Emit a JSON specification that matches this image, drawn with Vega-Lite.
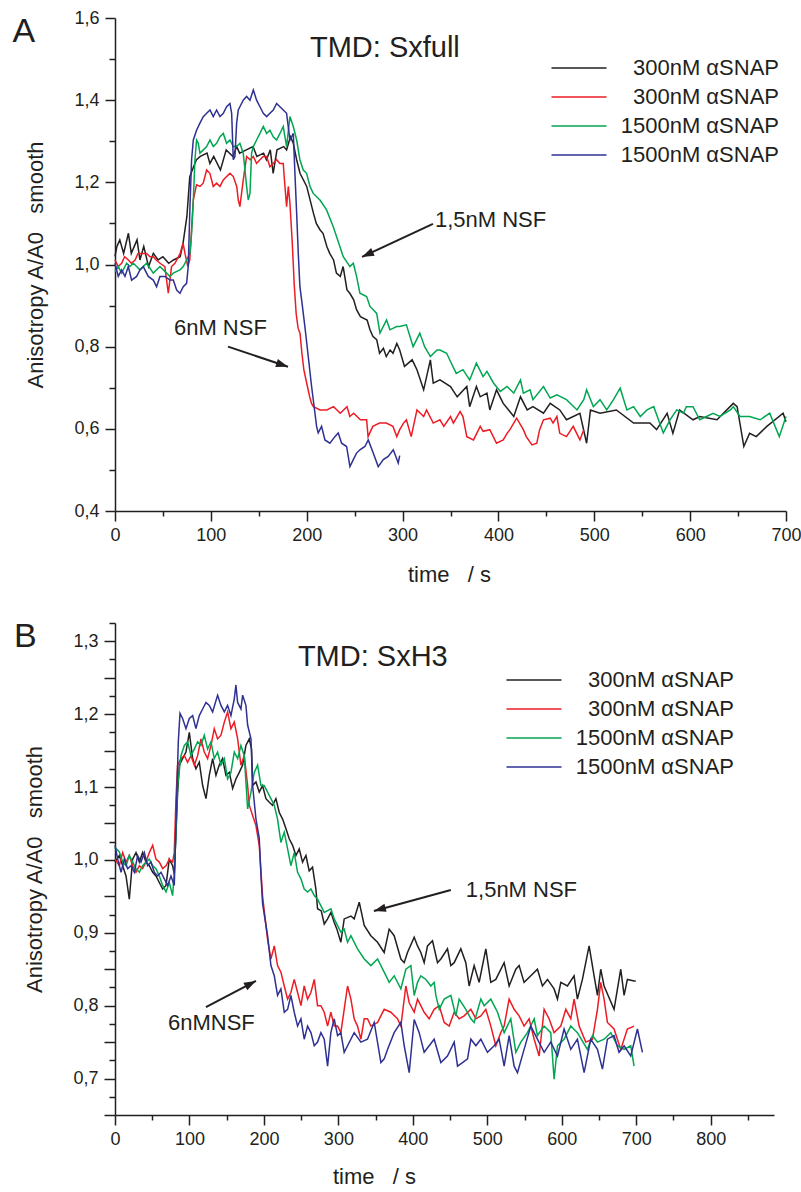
{
"$schema": "https://vega.github.io/schema/vega-lite/v6.json",
"padding": {"left": 12, "top": 9, "right": 5, "bottom": 5},
"background": "white",
"spacing": 29,
"resolve": {"scale": {"color": "independent"}, "legend": {"color": "independent"}},
"config": {
  "view": {"stroke": null},
  "font": "Liberation Sans",
  "axis": {"grid": false, "domainColor": "#231f20", "domainWidth": 1.5, "tickColor": "#231f20", "tickWidth": 1.5, "labelFont": "Liberation Sans", "labelFontSize": 18, "labelColor": "#231f20", "titleFont": "Liberation Sans", "titleFontSize": 22, "titleFontWeight": "normal", "titleColor": "#231f20", "labelFlush": false, "labelOverlap": false, "tickCount": 200},
  "text": {"font": "Liberation Sans", "color": "#231f20"},
  "legend": {"labelFont": "Liberation Sans"}
},
"datasets": {
"A": [
{"s":"k","t":0,"v":1.02},{"s":"k","t":2,"v":1.044},{"s":"k","t":5,"v":1.06},{"s":"k","t":9,"v":1.027},{"s":"k","t":14,"v":1.076},{"s":"k","t":17,"v":1.027},{"s":"k","t":23,"v":1.06},{"s":"k","t":26,"v":1.011},{"s":"k","t":30,"v":1.044},{"s":"k","t":35,"v":0.995},{"s":"k","t":40,"v":1.027},{"s":"k","t":45,"v":1.011},{"s":"k","t":50,"v":1.019},{"s":"k","t":56,"v":1.003},{"s":"k","t":61,"v":1.011},{"s":"k","t":68,"v":1.019},{"s":"k","t":71,"v":1.052},{"s":"k","t":75,"v":1.117},{"s":"k","t":78,"v":1.214},{"s":"k","t":82,"v":1.238},{"s":"k","t":85,"v":1.255},{"s":"k","t":89,"v":1.263},{"s":"k","t":96,"v":1.271},{"s":"k","t":99,"v":1.246},{"s":"k","t":103,"v":1.263},{"s":"k","t":110,"v":1.23},{"s":"k","t":116,"v":1.279},{"s":"k","t":123,"v":1.263},{"s":"k","t":127,"v":1.287},{"s":"k","t":130,"v":1.271},{"s":"k","t":137,"v":1.279},{"s":"k","t":144,"v":1.287},{"s":"k","t":148,"v":1.263},{"s":"k","t":155,"v":1.271},{"s":"k","t":158,"v":1.255},{"s":"k","t":162,"v":1.279},{"s":"k","t":165,"v":1.222},{"s":"k","t":169,"v":1.279},{"s":"k","t":176,"v":1.287},{"s":"k","t":179,"v":1.279},{"s":"k","t":183,"v":1.311},{"s":"k","t":186,"v":1.295},{"s":"k","t":189.5,"v":1.255},{"s":"k","t":193,"v":1.222},{"s":"k","t":200,"v":1.19},{"s":"k","t":207,"v":1.125},{"s":"k","t":210,"v":1.1},{"s":"k","t":214,"v":1.084},{"s":"k","t":217,"v":1.076},{"s":"k","t":221,"v":1.044},{"s":"k","t":224,"v":1.027},{"s":"k","t":228,"v":1.011},{"s":"k","t":231,"v":0.979},{"s":"k","t":235,"v":0.971},{"s":"k","t":238,"v":0.995},{"s":"k","t":242,"v":0.938},{"s":"k","t":245,"v":0.93},{"s":"k","t":249,"v":0.914},{"s":"k","t":252,"v":0.89},{"s":"k","t":256,"v":0.873},{"s":"k","t":263,"v":0.865},{"s":"k","t":266,"v":0.841},{"s":"k","t":269,"v":0.825},{"s":"k","t":273,"v":0.817},{"s":"k","t":276,"v":0.784},{"s":"k","t":280,"v":0.796},{"s":"k","t":283,"v":0.776},{"s":"k","t":287,"v":0.792},{"s":"k","t":290,"v":0.784},{"s":"k","t":294,"v":0.808},{"s":"k","t":297,"v":0.792},{"s":"k","t":302,"v":0.752},{"s":"k","t":310,"v":0.768},{"s":"k","t":315,"v":0.744},{"s":"k","t":322,"v":0.695},{"s":"k","t":329,"v":0.768},{"s":"k","t":332,"v":0.711},{"s":"k","t":339,"v":0.719},{"s":"k","t":350,"v":0.703},{"s":"k","t":357,"v":0.678},{"s":"k","t":367,"v":0.703},{"s":"k","t":370,"v":0.654},{"s":"k","t":377,"v":0.703},{"s":"k","t":381,"v":0.678},{"s":"k","t":388,"v":0.687},{"s":"k","t":391,"v":0.646},{"s":"k","t":398,"v":0.695},{"s":"k","t":405,"v":0.662},{"s":"k","t":416,"v":0.63},{"s":"k","t":423,"v":0.678},{"s":"k","t":430,"v":0.646},{"s":"k","t":436,"v":0.654},{"s":"k","t":447,"v":0.638},{"s":"k","t":454,"v":0.662},{"s":"k","t":464,"v":0.646},{"s":"k","t":471,"v":0.622},{"s":"k","t":485,"v":0.638},{"s":"k","t":492,"v":0.565},{"s":"k","t":496,"v":0.646},{"s":"k","t":506,"v":0.638},{"s":"k","t":523,"v":0.646},{"s":"k","t":541,"v":0.614},{"s":"k","t":558,"v":0.614},{"s":"k","t":565,"v":0.598},{"s":"k","t":576,"v":0.638},{"s":"k","t":582,"v":0.589},{"s":"k","t":589,"v":0.646},{"s":"k","t":603,"v":0.622},{"s":"k","t":610,"v":0.63},{"s":"k","t":628,"v":0.622},{"s":"k","t":645,"v":0.662},{"s":"k","t":649,"v":0.654},{"s":"k","t":656,"v":0.557},{"s":"k","t":662,"v":0.589},{"s":"k","t":669,"v":0.581},{"s":"k","t":680,"v":0.606},{"s":"k","t":697,"v":0.638},{"s":"k","t":700,"v":0.617},
{"s":"r","t":0,"v":1.011},{"s":"r","t":3.4,"v":0.995},{"s":"r","t":7,"v":1.003},{"s":"r","t":10,"v":1.019},{"s":"r","t":14,"v":1.011},{"s":"r","t":17,"v":1.003},{"s":"r","t":21,"v":1.011},{"s":"r","t":24,"v":1.027},{"s":"r","t":28,"v":1.027},{"s":"r","t":33,"v":1.027},{"s":"r","t":36.5,"v":1.019},{"s":"r","t":40,"v":1.019},{"s":"r","t":43,"v":1.011},{"s":"r","t":47,"v":1.003},{"s":"r","t":52,"v":0.995},{"s":"r","t":55.6,"v":0.93},{"s":"r","t":59,"v":0.995},{"s":"r","t":62.5,"v":1.003},{"s":"r","t":68,"v":1.027},{"s":"r","t":71,"v":1.052},{"s":"r","t":73,"v":1.027},{"s":"r","t":76,"v":0.995},{"s":"r","t":78,"v":1.011},{"s":"r","t":81.7,"v":1.157},{"s":"r","t":85,"v":1.194},{"s":"r","t":88.6,"v":1.19},{"s":"r","t":92,"v":1.198},{"s":"r","t":95.6,"v":1.23},{"s":"r","t":99,"v":1.222},{"s":"r","t":102.5,"v":1.19},{"s":"r","t":106,"v":1.198},{"s":"r","t":109.5,"v":1.19},{"s":"r","t":113,"v":1.206},{"s":"r","t":116.4,"v":1.214},{"s":"r","t":120,"v":1.222},{"s":"r","t":123.4,"v":1.214},{"s":"r","t":127,"v":1.19},{"s":"r","t":128.6,"v":1.157},{"s":"r","t":130.3,"v":1.141},{"s":"r","t":133.8,"v":1.206},{"s":"r","t":137.3,"v":1.263},{"s":"r","t":141,"v":1.255},{"s":"r","t":144.3,"v":1.263},{"s":"r","t":147.7,"v":1.246},{"s":"r","t":151.2,"v":1.255},{"s":"r","t":154.7,"v":1.263},{"s":"r","t":158.2,"v":1.263},{"s":"r","t":161.6,"v":1.238},{"s":"r","t":165,"v":1.246},{"s":"r","t":168.6,"v":1.255},{"s":"r","t":172,"v":1.246},{"s":"r","t":175.5,"v":1.246},{"s":"r","t":177.3,"v":1.19},{"s":"r","t":179,"v":1.141},{"s":"r","t":180.8,"v":1.19},{"s":"r","t":182.5,"v":1.149},{"s":"r","t":185,"v":1.05},{"s":"r","t":187,"v":0.95},{"s":"r","t":189,"v":0.88},{"s":"r","t":191,"v":0.845},{"s":"r","t":193,"v":0.833},{"s":"r","t":195,"v":0.784},{"s":"r","t":197,"v":0.744},{"s":"r","t":200,"v":0.711},{"s":"r","t":203,"v":0.679},{"s":"r","t":205,"v":0.662},{"s":"r","t":207,"v":0.654},{"s":"r","t":214,"v":0.646},{"s":"r","t":221,"v":0.646},{"s":"r","t":228,"v":0.654},{"s":"r","t":235,"v":0.638},{"s":"r","t":242,"v":0.654},{"s":"r","t":245,"v":0.63},{"s":"r","t":249,"v":0.638},{"s":"r","t":256,"v":0.622},{"s":"r","t":262.5,"v":0.622},{"s":"r","t":264,"v":0.581},{"s":"r","t":269,"v":0.606},{"s":"r","t":276,"v":0.614},{"s":"r","t":283,"v":0.614},{"s":"r","t":290,"v":0.606},{"s":"r","t":294,"v":0.581},{"s":"r","t":297,"v":0.598},{"s":"r","t":301,"v":0.614},{"s":"r","t":304,"v":0.622},{"s":"r","t":309,"v":0.581},{"s":"r","t":315,"v":0.646},{"s":"r","t":322,"v":0.63},{"s":"r","t":325,"v":0.646},{"s":"r","t":332,"v":0.614},{"s":"r","t":339,"v":0.622},{"s":"r","t":343,"v":0.606},{"s":"r","t":350,"v":0.63},{"s":"r","t":353,"v":0.614},{"s":"r","t":360,"v":0.642},{"s":"r","t":363,"v":0.63},{"s":"r","t":367,"v":0.581},{"s":"r","t":374,"v":0.573},{"s":"r","t":381,"v":0.606},{"s":"r","t":384,"v":0.594},{"s":"r","t":391,"v":0.598},{"s":"r","t":398,"v":0.565},{"s":"r","t":405,"v":0.573},{"s":"r","t":409,"v":0.589},{"s":"r","t":412,"v":0.598},{"s":"r","t":419,"v":0.626},{"s":"r","t":426,"v":0.598},{"s":"r","t":429,"v":0.581},{"s":"r","t":435,"v":0.561},{"s":"r","t":440,"v":0.565},{"s":"r","t":443,"v":0.598},{"s":"r","t":447,"v":0.622},{"s":"r","t":454,"v":0.626},{"s":"r","t":457,"v":0.614},{"s":"r","t":461,"v":0.63},{"s":"r","t":464,"v":0.589},{"s":"r","t":471,"v":0.581},{"s":"r","t":478,"v":0.606},{"s":"r","t":485,"v":0.573},{"s":"r","t":489,"v":0.598},
{"s":"g","t":0,"v":0.983},{"s":"g","t":3.4,"v":0.995},{"s":"g","t":6.9,"v":0.979},{"s":"g","t":12.1,"v":1.003},{"s":"g","t":15.6,"v":0.995},{"s":"g","t":19.1,"v":1.003},{"s":"g","t":22.6,"v":0.995},{"s":"g","t":26,"v":0.987},{"s":"g","t":33,"v":1.003},{"s":"g","t":39.9,"v":0.979},{"s":"g","t":46.9,"v":0.995},{"s":"g","t":53.9,"v":0.979},{"s":"g","t":57.3,"v":0.971},{"s":"g","t":60.8,"v":0.979},{"s":"g","t":67.8,"v":0.987},{"s":"g","t":71.2,"v":0.995},{"s":"g","t":74.7,"v":1.011},{"s":"g","t":78.2,"v":1.027},{"s":"g","t":79.9,"v":1.076},{"s":"g","t":81.7,"v":1.157},{"s":"g","t":83.4,"v":1.255},{"s":"g","t":85.1,"v":1.303},{"s":"g","t":86.9,"v":1.295},{"s":"g","t":88.6,"v":1.271},{"s":"g","t":92.1,"v":1.279},{"s":"g","t":95.6,"v":1.287},{"s":"g","t":99.1,"v":1.303},{"s":"g","t":102.5,"v":1.287},{"s":"g","t":106,"v":1.295},{"s":"g","t":109.5,"v":1.311},{"s":"g","t":113,"v":1.319},{"s":"g","t":116.4,"v":1.295},{"s":"g","t":119.9,"v":1.303},{"s":"g","t":123.4,"v":1.287},{"s":"g","t":126.9,"v":1.287},{"s":"g","t":130.3,"v":1.295},{"s":"g","t":133.8,"v":1.271},{"s":"g","t":137.3,"v":1.19},{"s":"g","t":139,"v":1.157},{"s":"g","t":140.8,"v":1.173},{"s":"g","t":142.5,"v":1.271},{"s":"g","t":144.3,"v":1.287},{"s":"g","t":147.7,"v":1.303},{"s":"g","t":151.2,"v":1.319},{"s":"g","t":154.7,"v":1.336},{"s":"g","t":158.2,"v":1.319},{"s":"g","t":161.6,"v":1.327},{"s":"g","t":165.1,"v":1.311},{"s":"g","t":168.6,"v":1.303},{"s":"g","t":172.1,"v":1.319},{"s":"g","t":175.5,"v":1.336},{"s":"g","t":179,"v":1.287},{"s":"g","t":182.5,"v":1.36},{"s":"g","t":186,"v":1.336},{"s":"g","t":189.5,"v":1.303},{"s":"g","t":192.9,"v":1.255},{"s":"g","t":196.4,"v":1.23},{"s":"g","t":199.9,"v":1.222},{"s":"g","t":203.4,"v":1.19},{"s":"g","t":206.8,"v":1.173},{"s":"g","t":213.8,"v":1.157},{"s":"g","t":220.7,"v":1.133},{"s":"g","t":227.7,"v":1.092},{"s":"g","t":234.6,"v":1.044},{"s":"g","t":238.1,"v":1.019},{"s":"g","t":245.1,"v":0.995},{"s":"g","t":248.6,"v":1.003},{"s":"g","t":252,"v":0.971},{"s":"g","t":255.5,"v":0.93},{"s":"g","t":262.5,"v":0.922},{"s":"g","t":266,"v":0.898},{"s":"g","t":273,"v":0.881},{"s":"g","t":276.4,"v":0.833},{"s":"g","t":283.3,"v":0.865},{"s":"g","t":286.8,"v":0.841},{"s":"g","t":293.8,"v":0.849},{"s":"g","t":297,"v":0.849},{"s":"g","t":304,"v":0.853},{"s":"g","t":311,"v":0.8},{"s":"g","t":318,"v":0.833},{"s":"g","t":323,"v":0.8},{"s":"g","t":329,"v":0.776},{"s":"g","t":336,"v":0.792},{"s":"g","t":339,"v":0.792},{"s":"g","t":346,"v":0.784},{"s":"g","t":350,"v":0.764},{"s":"g","t":356,"v":0.735},{"s":"g","t":363,"v":0.744},{"s":"g","t":370,"v":0.719},{"s":"g","t":377,"v":0.76},{"s":"g","t":384,"v":0.727},{"s":"g","t":388,"v":0.74},{"s":"g","t":395,"v":0.711},{"s":"g","t":402,"v":0.691},{"s":"g","t":409,"v":0.703},{"s":"g","t":416,"v":0.687},{"s":"g","t":423,"v":0.719},{"s":"g","t":426,"v":0.687},{"s":"g","t":433,"v":0.695},{"s":"g","t":436,"v":0.671},{"s":"g","t":447,"v":0.703},{"s":"g","t":454,"v":0.675},{"s":"g","t":461,"v":0.683},{"s":"g","t":471,"v":0.671},{"s":"g","t":482,"v":0.646},{"s":"g","t":489,"v":0.671},{"s":"g","t":492,"v":0.695},{"s":"g","t":499,"v":0.654},{"s":"g","t":506,"v":0.671},{"s":"g","t":513,"v":0.646},{"s":"g","t":520,"v":0.671},{"s":"g","t":527,"v":0.699},{"s":"g","t":534,"v":0.646},{"s":"g","t":541,"v":0.654},{"s":"g","t":548,"v":0.63},{"s":"g","t":555,"v":0.646},{"s":"g","t":562,"v":0.654},{"s":"g","t":572,"v":0.59},{"s":"g","t":579,"v":0.622},{"s":"g","t":586,"v":0.646},{"s":"g","t":593,"v":0.638},{"s":"g","t":596,"v":0.654},{"s":"g","t":603,"v":0.654},{"s":"g","t":610,"v":0.622},{"s":"g","t":617,"v":0.63},{"s":"g","t":624,"v":0.638},{"s":"g","t":631,"v":0.63},{"s":"g","t":642,"v":0.646},{"s":"g","t":645,"v":0.654},{"s":"g","t":652,"v":0.63},{"s":"g","t":662,"v":0.63},{"s":"g","t":673,"v":0.622},{"s":"g","t":683,"v":0.638},{"s":"g","t":693,"v":0.581},{"s":"g","t":700,"v":0.63},
{"s":"b","t":0,"v":1.003},{"s":"b","t":3.4,"v":0.971},{"s":"b","t":6.9,"v":0.987},{"s":"b","t":10.4,"v":0.971},{"s":"b","t":13.9,"v":0.995},{"s":"b","t":17.3,"v":0.962},{"s":"b","t":22.6,"v":0.971},{"s":"b","t":26,"v":0.987},{"s":"b","t":29.5,"v":0.995},{"s":"b","t":34.7,"v":0.971},{"s":"b","t":39.9,"v":0.962},{"s":"b","t":43.4,"v":0.946},{"s":"b","t":46.9,"v":0.971},{"s":"b","t":52.1,"v":0.971},{"s":"b","t":57.3,"v":0.962},{"s":"b","t":60.8,"v":0.962},{"s":"b","t":64.3,"v":0.938},{"s":"b","t":67.8,"v":0.93},{"s":"b","t":71.2,"v":0.946},{"s":"b","t":74.7,"v":0.954},{"s":"b","t":76.4,"v":0.995},{"s":"b","t":78.2,"v":1.141},{"s":"b","t":79.9,"v":1.255},{"s":"b","t":81.7,"v":1.303},{"s":"b","t":85.1,"v":1.327},{"s":"b","t":88.6,"v":1.344},{"s":"b","t":92.1,"v":1.36},{"s":"b","t":95.6,"v":1.368},{"s":"b","t":99.1,"v":1.376},{"s":"b","t":102.5,"v":1.36},{"s":"b","t":106,"v":1.376},{"s":"b","t":109.5,"v":1.36},{"s":"b","t":113,"v":1.368},{"s":"b","t":116.4,"v":1.384},{"s":"b","t":119.9,"v":1.392},{"s":"b","t":121.7,"v":1.368},{"s":"b","t":123.4,"v":1.255},{"s":"b","t":125.1,"v":1.263},{"s":"b","t":126.9,"v":1.344},{"s":"b","t":128.6,"v":1.376},{"s":"b","t":130.3,"v":1.384},{"s":"b","t":133.8,"v":1.4},{"s":"b","t":137.3,"v":1.409},{"s":"b","t":140.8,"v":1.4},{"s":"b","t":144.3,"v":1.425},{"s":"b","t":147.7,"v":1.4},{"s":"b","t":151.2,"v":1.384},{"s":"b","t":154.7,"v":1.368},{"s":"b","t":158.2,"v":1.36},{"s":"b","t":161.6,"v":1.368},{"s":"b","t":165.1,"v":1.376},{"s":"b","t":168.6,"v":1.392},{"s":"b","t":172.1,"v":1.384},{"s":"b","t":175.5,"v":1.376},{"s":"b","t":179,"v":1.368},{"s":"b","t":182.5,"v":1.303},{"s":"b","t":184.3,"v":1.311},{"s":"b","t":186,"v":1.319},{"s":"b","t":187.7,"v":1.222},{"s":"b","t":189.5,"v":1.125},{"s":"b","t":191.2,"v":1.027},{"s":"b","t":192.9,"v":0.946},{"s":"b","t":194.7,"v":0.914},{"s":"b","t":198.1,"v":0.849},{"s":"b","t":201.6,"v":0.776},{"s":"b","t":205.1,"v":0.703},{"s":"b","t":208.6,"v":0.638},{"s":"b","t":210.3,"v":0.606},{"s":"b","t":212,"v":0.59},{"s":"b","t":215.5,"v":0.606},{"s":"b","t":219,"v":0.573},{"s":"b","t":224.2,"v":0.565},{"s":"b","t":229.4,"v":0.581},{"s":"b","t":232.9,"v":0.59},{"s":"b","t":236.4,"v":0.565},{"s":"b","t":241.6,"v":0.557},{"s":"b","t":245.1,"v":0.508},{"s":"b","t":248.6,"v":0.525},{"s":"b","t":252,"v":0.541},{"s":"b","t":255.5,"v":0.549},{"s":"b","t":260.7,"v":0.557},{"s":"b","t":264.2,"v":0.573},{"s":"b","t":269.4,"v":0.541},{"s":"b","t":274.6,"v":0.508},{"s":"b","t":279.9,"v":0.525},{"s":"b","t":285,"v":0.533},{"s":"b","t":290.3,"v":0.549},{"s":"b","t":295.5,"v":0.517},{"s":"b","t":297,"v":0.535}
],
"B": [
{"s":"k","t":0,"v":0.997},{"s":"k","t":5.8,"v":1.006},{"s":"k","t":10.3,"v":0.992},{"s":"k","t":14.8,"v":0.978},{"s":"k","t":19.2,"v":0.946},{"s":"k","t":23.7,"v":1.001},{"s":"k","t":28.2,"v":1.01},{"s":"k","t":32.7,"v":0.997},{"s":"k","t":37.1,"v":1.01},{"s":"k","t":41.6,"v":0.997},{"s":"k","t":46.1,"v":0.992},{"s":"k","t":50.6,"v":0.983},{"s":"k","t":55,"v":0.978},{"s":"k","t":59.5,"v":0.969},{"s":"k","t":64,"v":0.96},{"s":"k","t":68.5,"v":0.965},{"s":"k","t":72.9,"v":1.001},{"s":"k","t":77.4,"v":0.992},{"s":"k","t":79.6,"v":0.98},{"s":"k","t":84,"v":1.09},{"s":"k","t":86.4,"v":1.13},{"s":"k","t":90.8,"v":1.139},{"s":"k","t":95.3,"v":1.148},{"s":"k","t":99.8,"v":1.175},{"s":"k","t":104.3,"v":1.139},{"s":"k","t":108.7,"v":1.125},{"s":"k","t":113.2,"v":1.134},{"s":"k","t":117.7,"v":1.102},{"s":"k","t":122.2,"v":1.084},{"s":"k","t":126.6,"v":1.116},{"s":"k","t":131.1,"v":1.139},{"s":"k","t":135.6,"v":1.116},{"s":"k","t":140,"v":1.13},{"s":"k","t":144.5,"v":1.139},{"s":"k","t":149,"v":1.116},{"s":"k","t":153.5,"v":1.12},{"s":"k","t":158,"v":1.098},{"s":"k","t":162.4,"v":1.111},{"s":"k","t":166.9,"v":1.12},{"s":"k","t":171.4,"v":1.13},{"s":"k","t":175.8,"v":1.157},{"s":"k","t":180.3,"v":1.166},{"s":"k","t":183.4,"v":1.152},{"s":"k","t":184.8,"v":1.102},{"s":"k","t":189.3,"v":1.107},{"s":"k","t":193.7,"v":1.093},{"s":"k","t":198.2,"v":1.102},{"s":"k","t":202.7,"v":1.084},{"s":"k","t":207.2,"v":1.079},{"s":"k","t":211.6,"v":1.075},{"s":"k","t":216.1,"v":1.084},{"s":"k","t":220.6,"v":1.065},{"s":"k","t":225.1,"v":1.056},{"s":"k","t":229.5,"v":1.043},{"s":"k","t":234,"v":1.029},{"s":"k","t":238.5,"v":1.02},{"s":"k","t":243,"v":1.006},{"s":"k","t":247.4,"v":1.015},{"s":"k","t":251.9,"v":0.997},{"s":"k","t":256.4,"v":1.006},{"s":"k","t":260.8,"v":0.985},{"s":"k","t":265.3,"v":0.99},{"s":"k","t":269.8,"v":0.96},{"s":"k","t":272,"v":0.933},{"s":"k","t":277,"v":0.93},{"s":"k","t":281,"v":0.912},{"s":"k","t":285.5,"v":0.919},{"s":"k","t":290,"v":0.928},{"s":"k","t":294.4,"v":0.914},{"s":"k","t":298,"v":0.905},{"s":"k","t":303.3,"v":0.887},{"s":"k","t":307.8,"v":0.919},{"s":"k","t":316.8,"v":0.923},{"s":"k","t":321.2,"v":0.919},{"s":"k","t":328,"v":0.942},{"s":"k","t":334.7,"v":0.91},{"s":"k","t":343.6,"v":0.896},{"s":"k","t":352.6,"v":0.887},{"s":"k","t":361.5,"v":0.873},{"s":"k","t":368.2,"v":0.905},{"s":"k","t":374.9,"v":0.896},{"s":"k","t":383.9,"v":0.864},{"s":"k","t":388.4,"v":0.859},{"s":"k","t":392.8,"v":0.873},{"s":"k","t":401.8,"v":0.894},{"s":"k","t":406.3,"v":0.882},{"s":"k","t":410.7,"v":0.873},{"s":"k","t":415.2,"v":0.859},{"s":"k","t":419.7,"v":0.882},{"s":"k","t":426.4,"v":0.889},{"s":"k","t":433.1,"v":0.859},{"s":"k","t":437.6,"v":0.864},{"s":"k","t":446.5,"v":0.878},{"s":"k","t":451,"v":0.855},{"s":"k","t":455.5,"v":0.859},{"s":"k","t":464.4,"v":0.878},{"s":"k","t":471.1,"v":0.859},{"s":"k","t":475.6,"v":0.827},{"s":"k","t":482.3,"v":0.855},{"s":"k","t":489,"v":0.832},{"s":"k","t":498,"v":0.878},{"s":"k","t":504.7,"v":0.832},{"s":"k","t":511.4,"v":0.836},{"s":"k","t":522.6,"v":0.859},{"s":"k","t":529.3,"v":0.827},{"s":"k","t":538.3,"v":0.85},{"s":"k","t":542.7,"v":0.855},{"s":"k","t":549.4,"v":0.832},{"s":"k","t":558.4,"v":0.841},{"s":"k","t":567.3,"v":0.85},{"s":"k","t":574,"v":0.827},{"s":"k","t":580.8,"v":0.836},{"s":"k","t":589.7,"v":0.823},{"s":"k","t":594.2,"v":0.809},{"s":"k","t":598.7,"v":0.832},{"s":"k","t":607.6,"v":0.827},{"s":"k","t":616.5,"v":0.841},{"s":"k","t":621,"v":0.809},{"s":"k","t":627.7,"v":0.836},{"s":"k","t":636.7,"v":0.882},{"s":"k","t":643.4,"v":0.841},{"s":"k","t":647.9,"v":0.814},{"s":"k","t":652.3,"v":0.85},{"s":"k","t":656.8,"v":0.827},{"s":"k","t":670.2,"v":0.795},{"s":"k","t":679.2,"v":0.85},{"s":"k","t":683.7,"v":0.814},{"s":"k","t":688.1,"v":0.836},{"s":"k","t":697.1,"v":0.834},{"s":"k","t":699.3,"v":0.834},
{"s":"r","t":0,"v":1.001},{"s":"r","t":5.8,"v":0.992},{"s":"r","t":10.3,"v":1.01},{"s":"r","t":14.8,"v":0.997},{"s":"r","t":19.2,"v":1.006},{"s":"r","t":23.7,"v":0.992},{"s":"r","t":28.2,"v":0.983},{"s":"r","t":32.7,"v":0.992},{"s":"r","t":37.1,"v":0.988},{"s":"r","t":41.6,"v":0.997},{"s":"r","t":46.1,"v":1.01},{"s":"r","t":50.6,"v":1.02},{"s":"r","t":55,"v":1.001},{"s":"r","t":59.5,"v":0.997},{"s":"r","t":64,"v":0.988},{"s":"r","t":68.5,"v":0.992},{"s":"r","t":72.9,"v":1.001},{"s":"r","t":77.4,"v":0.997},{"s":"r","t":79.6,"v":1.01},{"s":"r","t":81.9,"v":1.084},{"s":"r","t":84.1,"v":1.13},{"s":"r","t":88.6,"v":1.139},{"s":"r","t":93.1,"v":1.143},{"s":"r","t":97.5,"v":1.134},{"s":"r","t":102,"v":1.143},{"s":"r","t":106.5,"v":1.13},{"s":"r","t":111,"v":1.143},{"s":"r","t":115.4,"v":1.166},{"s":"r","t":119.9,"v":1.148},{"s":"r","t":124.4,"v":1.139},{"s":"r","t":128.9,"v":1.157},{"s":"r","t":133.3,"v":1.18},{"s":"r","t":137.8,"v":1.166},{"s":"r","t":142.3,"v":1.171},{"s":"r","t":146.8,"v":1.189},{"s":"r","t":151.2,"v":1.203},{"s":"r","t":155.7,"v":1.18},{"s":"r","t":160.2,"v":1.189},{"s":"r","t":164.7,"v":1.166},{"s":"r","t":169.1,"v":1.13},{"s":"r","t":173.6,"v":1.143},{"s":"r","t":178.1,"v":1.102},{"s":"r","t":180.3,"v":1.075},{"s":"r","t":184.8,"v":1.061},{"s":"r","t":189.3,"v":1.047},{"s":"r","t":193.7,"v":1.02},{"s":"r","t":198.2,"v":0.95},{"s":"r","t":204.9,"v":0.891},{"s":"r","t":209.4,"v":0.864},{"s":"r","t":213.9,"v":0.882},{"s":"r","t":218.3,"v":0.855},{"s":"r","t":222.8,"v":0.846},{"s":"r","t":227.3,"v":0.827},{"s":"r","t":231.8,"v":0.809},{"s":"r","t":236.2,"v":0.818},{"s":"r","t":240.7,"v":0.836},{"s":"r","t":245.2,"v":0.818},{"s":"r","t":249.7,"v":0.8},{"s":"r","t":254.1,"v":0.827},{"s":"r","t":258.6,"v":0.809},{"s":"r","t":263.1,"v":0.818},{"s":"r","t":267.6,"v":0.836},{"s":"r","t":272,"v":0.8},{"s":"r","t":276.5,"v":0.8},{"s":"r","t":281,"v":0.791},{"s":"r","t":285.5,"v":0.772},{"s":"r","t":289.9,"v":0.791},{"s":"r","t":294.4,"v":0.772},{"s":"r","t":298.9,"v":0.772},{"s":"r","t":303.3,"v":0.763},{"s":"r","t":307.8,"v":0.795},{"s":"r","t":312.3,"v":0.827},{"s":"r","t":316.8,"v":0.809},{"s":"r","t":321.2,"v":0.782},{"s":"r","t":325.7,"v":0.772},{"s":"r","t":330.2,"v":0.754},{"s":"r","t":334.7,"v":0.782},{"s":"r","t":339.1,"v":0.782},{"s":"r","t":343.6,"v":0.772},{"s":"r","t":352.6,"v":0.777},{"s":"r","t":361.5,"v":0.795},{"s":"r","t":370.5,"v":0.791},{"s":"r","t":379.4,"v":0.782},{"s":"r","t":383.9,"v":0.772},{"s":"r","t":390.6,"v":0.827},{"s":"r","t":395.1,"v":0.804},{"s":"r","t":401.8,"v":0.791},{"s":"r","t":406.3,"v":0.809},{"s":"r","t":415.2,"v":0.791},{"s":"r","t":421.9,"v":0.782},{"s":"r","t":428.6,"v":0.795},{"s":"r","t":435.4,"v":0.8},{"s":"r","t":442.1,"v":0.777},{"s":"r","t":448.8,"v":0.772},{"s":"r","t":455.5,"v":0.791},{"s":"r","t":462.2,"v":0.782},{"s":"r","t":468.9,"v":0.786},{"s":"r","t":477.9,"v":0.795},{"s":"r","t":484.6,"v":0.782},{"s":"r","t":491.3,"v":0.786},{"s":"r","t":498,"v":0.795},{"s":"r","t":504.7,"v":0.772},{"s":"r","t":511.4,"v":0.745},{"s":"r","t":518.1,"v":0.763},{"s":"r","t":522.6,"v":0.772},{"s":"r","t":529.3,"v":0.809},{"s":"r","t":536,"v":0.795},{"s":"r","t":542.7,"v":0.786},{"s":"r","t":549.4,"v":0.772},{"s":"r","t":556.1,"v":0.782},{"s":"r","t":562.9,"v":0.754},{"s":"r","t":569.6,"v":0.731},{"s":"r","t":576.3,"v":0.795},{"s":"r","t":583,"v":0.782},{"s":"r","t":589.7,"v":0.763},{"s":"r","t":598.7,"v":0.772},{"s":"r","t":605.4,"v":0.795},{"s":"r","t":612.1,"v":0.782},{"s":"r","t":616.5,"v":0.809},{"s":"r","t":623.3,"v":0.772},{"s":"r","t":632.2,"v":0.75},{"s":"r","t":641.2,"v":0.754},{"s":"r","t":647.9,"v":0.795},{"s":"r","t":652.3,"v":0.832},{"s":"r","t":656.8,"v":0.809},{"s":"r","t":661.3,"v":0.777},{"s":"r","t":670.2,"v":0.768},{"s":"r","t":679.2,"v":0.74},{"s":"r","t":688.1,"v":0.768},{"s":"r","t":697.1,"v":0.772},
{"s":"g","t":0,"v":1.017},{"s":"g","t":5.8,"v":1.011},{"s":"g","t":10.3,"v":0.997},{"s":"g","t":14.8,"v":0.992},{"s":"g","t":19.2,"v":1.006},{"s":"g","t":23.7,"v":0.997},{"s":"g","t":28.2,"v":0.988},{"s":"g","t":32.7,"v":0.983},{"s":"g","t":37.1,"v":0.992},{"s":"g","t":41.6,"v":0.997},{"s":"g","t":46.1,"v":1.001},{"s":"g","t":50.6,"v":0.992},{"s":"g","t":55,"v":0.988},{"s":"g","t":59.5,"v":0.978},{"s":"g","t":64,"v":0.965},{"s":"g","t":68.5,"v":0.956},{"s":"g","t":72.9,"v":0.969},{"s":"g","t":77.4,"v":0.951},{"s":"g","t":79.6,"v":0.983},{"s":"g","t":81.9,"v":1.038},{"s":"g","t":84.1,"v":1.102},{"s":"g","t":88.6,"v":1.143},{"s":"g","t":93.1,"v":1.157},{"s":"g","t":97.5,"v":1.162},{"s":"g","t":102,"v":1.143},{"s":"g","t":106.5,"v":1.152},{"s":"g","t":111,"v":1.162},{"s":"g","t":115.4,"v":1.157},{"s":"g","t":119.9,"v":1.171},{"s":"g","t":124.4,"v":1.152},{"s":"g","t":128.9,"v":1.162},{"s":"g","t":133.3,"v":1.139},{"s":"g","t":137.8,"v":1.148},{"s":"g","t":142.3,"v":1.13},{"s":"g","t":146.8,"v":1.139},{"s":"g","t":151.2,"v":1.111},{"s":"g","t":155.7,"v":1.12},{"s":"g","t":160.2,"v":1.148},{"s":"g","t":164.7,"v":1.139},{"s":"g","t":169.1,"v":1.157},{"s":"g","t":173.6,"v":1.143},{"s":"g","t":178.1,"v":1.07},{"s":"g","t":182.6,"v":1.093},{"s":"g","t":187,"v":1.12},{"s":"g","t":191.5,"v":1.13},{"s":"g","t":196,"v":1.102},{"s":"g","t":200.4,"v":1.102},{"s":"g","t":204.9,"v":1.093},{"s":"g","t":209.4,"v":1.084},{"s":"g","t":213.9,"v":1.075},{"s":"g","t":218.3,"v":1.056},{"s":"g","t":222.8,"v":1.024},{"s":"g","t":227.3,"v":1.038},{"s":"g","t":231.8,"v":1.015},{"s":"g","t":236.2,"v":0.992},{"s":"g","t":240.7,"v":1.01},{"s":"g","t":245.2,"v":0.983},{"s":"g","t":249.7,"v":0.974},{"s":"g","t":254.1,"v":0.96},{"s":"g","t":258.6,"v":0.956},{"s":"g","t":263.1,"v":0.96},{"s":"g","t":267.6,"v":0.951},{"s":"g","t":272,"v":0.946},{"s":"g","t":281,"v":0.928},{"s":"g","t":290,"v":0.933},{"s":"g","t":294.4,"v":0.919},{"s":"g","t":303.3,"v":0.901},{"s":"g","t":307.8,"v":0.905},{"s":"g","t":312.3,"v":0.887},{"s":"g","t":316.8,"v":0.896},{"s":"g","t":325.7,"v":0.878},{"s":"g","t":334.7,"v":0.864},{"s":"g","t":343.6,"v":0.855},{"s":"g","t":352.6,"v":0.864},{"s":"g","t":361.5,"v":0.846},{"s":"g","t":368.2,"v":0.832},{"s":"g","t":374.9,"v":0.841},{"s":"g","t":383.9,"v":0.823},{"s":"g","t":390.6,"v":0.85},{"s":"g","t":397.3,"v":0.855},{"s":"g","t":401.8,"v":0.814},{"s":"g","t":406.3,"v":0.832},{"s":"g","t":410.7,"v":0.841},{"s":"g","t":417.5,"v":0.836},{"s":"g","t":424.2,"v":0.827},{"s":"g","t":428.6,"v":0.832},{"s":"g","t":430.9,"v":0.814},{"s":"g","t":435.4,"v":0.795},{"s":"g","t":442.1,"v":0.809},{"s":"g","t":451,"v":0.814},{"s":"g","t":457.7,"v":0.786},{"s":"g","t":462.2,"v":0.809},{"s":"g","t":471.1,"v":0.795},{"s":"g","t":477.9,"v":0.782},{"s":"g","t":482.3,"v":0.777},{"s":"g","t":491.3,"v":0.809},{"s":"g","t":495.8,"v":0.8},{"s":"g","t":504.7,"v":0.809},{"s":"g","t":513.7,"v":0.791},{"s":"g","t":522.6,"v":0.763},{"s":"g","t":531.5,"v":0.782},{"s":"g","t":538.3,"v":0.736},{"s":"g","t":545,"v":0.75},{"s":"g","t":553.9,"v":0.763},{"s":"g","t":562.9,"v":0.782},{"s":"g","t":567.3,"v":0.759},{"s":"g","t":576.3,"v":0.772},{"s":"g","t":585.2,"v":0.763},{"s":"g","t":589.7,"v":0.699},{"s":"g","t":594.2,"v":0.745},{"s":"g","t":603.1,"v":0.754},{"s":"g","t":612.1,"v":0.772},{"s":"g","t":621,"v":0.763},{"s":"g","t":634.4,"v":0.74},{"s":"g","t":641.2,"v":0.759},{"s":"g","t":647.9,"v":0.75},{"s":"g","t":656.8,"v":0.754},{"s":"g","t":665.8,"v":0.763},{"s":"g","t":674.7,"v":0.745},{"s":"g","t":683.7,"v":0.74},{"s":"g","t":692.6,"v":0.745},{"s":"g","t":697.1,"v":0.717},
{"s":"b","t":0,"v":1.02},{"s":"b","t":3.6,"v":1.001},{"s":"b","t":8.1,"v":0.983},{"s":"b","t":12.5,"v":1.001},{"s":"b","t":17,"v":0.988},{"s":"b","t":21.5,"v":0.992},{"s":"b","t":26,"v":0.983},{"s":"b","t":30.4,"v":1.006},{"s":"b","t":34.9,"v":0.997},{"s":"b","t":39.4,"v":1.01},{"s":"b","t":43.9,"v":0.992},{"s":"b","t":48.3,"v":0.997},{"s":"b","t":52.8,"v":0.983},{"s":"b","t":57.3,"v":0.978},{"s":"b","t":61.8,"v":0.983},{"s":"b","t":66.2,"v":0.974},{"s":"b","t":70.7,"v":0.965},{"s":"b","t":75.2,"v":0.978},{"s":"b","t":79.6,"v":0.965},{"s":"b","t":82.8,"v":1.084},{"s":"b","t":85,"v":1.162},{"s":"b","t":87.3,"v":1.201},{"s":"b","t":90.8,"v":1.194},{"s":"b","t":95.3,"v":1.18},{"s":"b","t":99.8,"v":1.194},{"s":"b","t":104.3,"v":1.198},{"s":"b","t":108.7,"v":1.18},{"s":"b","t":113.2,"v":1.198},{"s":"b","t":117.7,"v":1.207},{"s":"b","t":122.2,"v":1.216},{"s":"b","t":126.6,"v":1.212},{"s":"b","t":131.1,"v":1.203},{"s":"b","t":137.8,"v":1.226},{"s":"b","t":142.3,"v":1.212},{"s":"b","t":146.8,"v":1.203},{"s":"b","t":151.2,"v":1.212},{"s":"b","t":155.7,"v":1.198},{"s":"b","t":160.2,"v":1.221},{"s":"b","t":162.4,"v":1.24},{"s":"b","t":164.7,"v":1.216},{"s":"b","t":169.1,"v":1.207},{"s":"b","t":171.4,"v":1.226},{"s":"b","t":175.8,"v":1.212},{"s":"b","t":178.1,"v":1.185},{"s":"b","t":182.6,"v":1.166},{"s":"b","t":184.8,"v":1.102},{"s":"b","t":189.3,"v":1.056},{"s":"b","t":193.7,"v":1.03},{"s":"b","t":196,"v":0.98},{"s":"b","t":198.2,"v":0.94},{"s":"b","t":204.9,"v":0.896},{"s":"b","t":209.4,"v":0.855},{"s":"b","t":213.9,"v":0.841},{"s":"b","t":218.3,"v":0.814},{"s":"b","t":222.8,"v":0.823},{"s":"b","t":227.3,"v":0.791},{"s":"b","t":231.8,"v":0.795},{"s":"b","t":236.2,"v":0.814},{"s":"b","t":240.7,"v":0.791},{"s":"b","t":245.2,"v":0.772},{"s":"b","t":249.7,"v":0.782},{"s":"b","t":254.1,"v":0.754},{"s":"b","t":258.6,"v":0.772},{"s":"b","t":263.1,"v":0.763},{"s":"b","t":267.6,"v":0.745},{"s":"b","t":272,"v":0.75},{"s":"b","t":276.5,"v":0.763},{"s":"b","t":281,"v":0.754},{"s":"b","t":285.5,"v":0.717},{"s":"b","t":289.9,"v":0.763},{"s":"b","t":294.4,"v":0.782},{"s":"b","t":298.9,"v":0.759},{"s":"b","t":303.3,"v":0.763},{"s":"b","t":307.8,"v":0.736},{"s":"b","t":312.3,"v":0.745},{"s":"b","t":321.2,"v":0.763},{"s":"b","t":330.2,"v":0.75},{"s":"b","t":339.1,"v":0.754},{"s":"b","t":348.1,"v":0.777},{"s":"b","t":357.1,"v":0.722},{"s":"b","t":361.5,"v":0.727},{"s":"b","t":366,"v":0.74},{"s":"b","t":374.9,"v":0.763},{"s":"b","t":383.9,"v":0.777},{"s":"b","t":388.4,"v":0.745},{"s":"b","t":395.1,"v":0.708},{"s":"b","t":401.8,"v":0.781},{"s":"b","t":408.5,"v":0.763},{"s":"b","t":415.2,"v":0.736},{"s":"b","t":421.9,"v":0.745},{"s":"b","t":428.6,"v":0.754},{"s":"b","t":437.6,"v":0.722},{"s":"b","t":446.5,"v":0.731},{"s":"b","t":455.5,"v":0.75},{"s":"b","t":460,"v":0.717},{"s":"b","t":466.7,"v":0.722},{"s":"b","t":473.4,"v":0.727},{"s":"b","t":477.9,"v":0.754},{"s":"b","t":484.6,"v":0.745},{"s":"b","t":491.3,"v":0.754},{"s":"b","t":500.2,"v":0.736},{"s":"b","t":509.2,"v":0.745},{"s":"b","t":515.9,"v":0.754},{"s":"b","t":522.6,"v":0.717},{"s":"b","t":529.3,"v":0.759},{"s":"b","t":536,"v":0.717},{"s":"b","t":540.5,"v":0.708},{"s":"b","t":549.4,"v":0.74},{"s":"b","t":558.4,"v":0.772},{"s":"b","t":567.3,"v":0.754},{"s":"b","t":576.3,"v":0.736},{"s":"b","t":585.2,"v":0.75},{"s":"b","t":594.2,"v":0.731},{"s":"b","t":603.1,"v":0.768},{"s":"b","t":612.1,"v":0.74},{"s":"b","t":621,"v":0.754},{"s":"b","t":630,"v":0.708},{"s":"b","t":638.9,"v":0.754},{"s":"b","t":647.9,"v":0.74},{"s":"b","t":654.6,"v":0.713},{"s":"b","t":661.3,"v":0.754},{"s":"b","t":670.2,"v":0.759},{"s":"b","t":676.9,"v":0.736},{"s":"b","t":683.7,"v":0.745},{"s":"b","t":692.6,"v":0.731},{"s":"b","t":701.6,"v":0.768},{"s":"b","t":708.3,"v":0.736}
]
},
"vconcat": [
{
  "width": 671, "height": 493,
  "layer": [
    {
      "data": {"name": "A"},
      "mark": {"type": "line", "strokeWidth": 1.5},
      "encoding": {
        "x": {"field": "t", "type": "quantitative", "scale": {"domain": [0, 700], "nice": false, "zero": false},
          "axis": {"values": [0,50,100,150,200,250,300,350,400,450,500,550,600,650,700], "tickCount": 200,
            "tickSize": {"condition": {"test": "datum.value % 100 == 0", "value": 10}, "value": 5},
            "labelExpr": "datum.value % 100 == 0 ? format(datum.value, 'd') : ''",
            "labelPadding": 5, "title": "time\u00a0\u00a0\u00a0/ s", "titleX": 334, "titleY": 70, "titleBaseline": "alphabetic"}},
        "y": {"field": "v", "type": "quantitative", "scale": {"domain": [0.4, 1.6], "nice": false, "zero": false},
          "axis": {"values": [0.4,0.5,0.6,0.7,0.8,0.9,1.0,1.1,1.2,1.3,1.4,1.5,1.6], "tickCount": 200,
            "tickSize": {"condition": {"test": "round(datum.value*10) % 2 == 0", "value": 10}, "value": 6},
            "labelExpr": "round(datum.value*10) % 2 == 0 ? replace(format(datum.value, '.1f'), '.', ',') : ''",
            "labelPadding": 6, "title": "Anisotropy A/A0\u00a0\u00a0\u00a0smooth", "titlePadding": 26}},
        "color": {"field": "s", "type": "nominal",
          "scale": {"domain": ["k", "r", "g", "b"], "range": ["#231f20", "#ed1c24", "#00a651", "#2e3192"]},
          "legend": {"orient": "none", "legendX": 453, "legendY": 39, "title": null, "padding": 0,
            "symbolType": "M-5,0H5", "symbolSize": 121, "symbolStrokeWidth": 1.5,
            "labelFontSize": 22, "labelColor": "#231f20", "labelAlign": "right", "labelOffset": 189, "labelLimit": 400, "rowPadding": 7,
            "labelExpr": "datum.value == 'k' || datum.value == 'r' ? '300nM αSNAP' : '1500nM αSNAP'"}}
      }
    },
    {
      "data": {"values": [{"txt": "A", "t": -107, "v": 1.5416}]},
      "mark": {"type": "text", "fontSize": 34, "align": "left", "baseline": "alphabetic"},
      "encoding": {"x": {"field": "t", "type": "quantitative"}, "y": {"field": "v", "type": "quantitative"}, "text": {"field": "txt"}}
    },
    {
      "data": {"values": [{"txt": "TMD: Sxfull", "t": 203.4, "v": 1.505}]},
      "mark": {"type": "text", "fontSize": 29, "align": "left", "baseline": "alphabetic"},
      "encoding": {"x": {"field": "t", "type": "quantitative"}, "y": {"field": "v", "type": "quantitative"}, "text": {"field": "txt"}}
    },
    {
      "data": {"values": [{"txt": "1,5nM NSF", "t": 333.8, "v": 1.0915}, {"txt": "6nM NSF", "t": 61.5, "v": 0.8287}]},
      "mark": {"type": "text", "fontSize": 22, "align": "left", "baseline": "alphabetic"},
      "encoding": {"x": {"field": "t", "type": "quantitative"}, "y": {"field": "v", "type": "quantitative"}, "text": {"field": "txt"}}
    },
    {
      "data": {"values": [{"t": 331.7, "v": 1.099, "t2": 257.7, "v2": 1.0185}, {"t": 117.9, "v": 0.8, "t2": 180.5, "v2": 0.751}]},
      "mark": {"type": "rule", "strokeWidth": 2, "color": "#231f20"},
      "encoding": {"x": {"field": "t", "type": "quantitative"}, "y": {"field": "v", "type": "quantitative"}, "x2": {"field": "t2"}, "y2": {"field": "v2"}}
    },
    {
      "data": {"values": [{"t": 257.7, "v": 1.0185}]},
      "mark": {"type": "point", "shape": "M0,0L-2,-0.7L-2,0.7Z", "size": 144, "filled": true, "opacity": 1, "color": "#231f20", "angle": 155},
      "encoding": {"x": {"field": "t", "type": "quantitative"}, "y": {"field": "v", "type": "quantitative"}}
    },
    {
      "data": {"values": [{"t": 180.5, "v": 0.751}]},
      "mark": {"type": "point", "shape": "M0,0L-2,-0.7L-2,0.7Z", "size": 144, "filled": true, "opacity": 1, "color": "#231f20", "angle": 18},
      "encoding": {"x": {"field": "t", "type": "quantitative"}, "y": {"field": "v", "type": "quantitative"}}
    }
  ]
},
{
  "width": 659, "height": 492,
  "layer": [
    {
      "data": {"name": "B"},
      "mark": {"type": "line", "strokeWidth": 1.5},
      "encoding": {
        "x": {"field": "t", "type": "quantitative", "scale": {"domain": [0, 885], "nice": false, "zero": false},
          "axis": {"values": [0,50,100,150,200,250,300,350,400,450,500,550,600,650,700,750,800,850], "tickCount": 200,
            "tickSize": {"condition": {"test": "datum.value % 100 == 0", "value": 10}, "value": 5},
            "labelExpr": "datum.value % 100 == 0 ? format(datum.value, 'd') : ''",
            "labelPadding": 5, "title": "time\u00a0\u00a0\u00a0/ s", "titleX": 259, "titleY": 68, "titleBaseline": "alphabetic"}},
        "y": {"field": "v", "type": "quantitative", "scale": {"domain": [0.65, 1.325], "nice": false, "zero": false},
          "axis": {"values": [0.65,0.675,0.7,0.725,0.75,0.775,0.8,0.825,0.85,0.875,0.9,0.925,0.95,0.975,1.0,1.025,1.05,1.075,1.1,1.125,1.15,1.175,1.2,1.225,1.25,1.275,1.3,1.325], "tickCount": 200,
            "tickSize": {"condition": {"test": "round(datum.value*40) % 2 == 0", "value": 11}, "value": 6},
            "labelExpr": "round(datum.value*40) % 4 == 0 ? replace(format(datum.value, '.1f'), '.', ',') : ''",
            "labelPadding": 6, "title": "Anisotropy A/A0\u00a0\u00a0\u00a0smooth", "titlePadding": 26}},
        "color": {"field": "s", "type": "nominal",
          "scale": {"domain": ["k", "r", "g", "b"], "range": ["#231f20", "#ed1c24", "#00a651", "#2e3192"]},
          "legend": {"orient": "none", "legendX": 408, "legendY": 46, "title": null, "padding": 0,
            "symbolType": "M-5,0H5", "symbolSize": 121, "symbolStrokeWidth": 1.5,
            "labelFontSize": 22, "labelColor": "#231f20", "labelAlign": "right", "labelOffset": 189, "labelLimit": 400, "rowPadding": 7,
            "labelExpr": "datum.value == 'k' || datum.value == 'r' ? '300nM αSNAP' : '1500nM αSNAP'"}}
      }
    },
    {
      "data": {"values": [{"txt": "B", "t": -135.6, "v": 1.2926}]},
      "mark": {"type": "text", "fontSize": 34, "align": "left", "baseline": "alphabetic"},
      "encoding": {"x": {"field": "t", "type": "quantitative"}, "y": {"field": "v", "type": "quantitative"}, "text": {"field": "txt"}}
    },
    {
      "data": {"values": [{"txt": "TMD: SxH3", "t": 245.6, "v": 1.2665}]},
      "mark": {"type": "text", "fontSize": 29, "align": "left", "baseline": "alphabetic"},
      "encoding": {"x": {"field": "t", "type": "quantitative"}, "y": {"field": "v", "type": "quantitative"}, "text": {"field": "txt"}}
    },
    {
      "data": {"values": [{"txt": "1,5nM NSF", "t": 471.1, "v": 0.949}, {"txt": "6nMNSF", "t": 71.1, "v": 0.7665}]},
      "mark": {"type": "text", "fontSize": 22, "align": "left", "baseline": "alphabetic"},
      "encoding": {"x": {"field": "t", "type": "quantitative"}, "y": {"field": "v", "type": "quantitative"}, "text": {"field": "txt"}}
    },
    {
      "data": {"values": [{"t": 451, "v": 0.9588, "t2": 347.7, "v2": 0.93}, {"t": 122.1, "v": 0.798, "t2": 189.3, "v2": 0.834}]},
      "mark": {"type": "rule", "strokeWidth": 2, "color": "#231f20"},
      "encoding": {"x": {"field": "t", "type": "quantitative"}, "y": {"field": "v", "type": "quantitative"}, "x2": {"field": "t2"}, "y2": {"field": "v2"}}
    },
    {
      "data": {"values": [{"t": 347.7, "v": 0.93}]},
      "mark": {"type": "point", "shape": "M0,0L-2,-0.7L-2,0.7Z", "size": 144, "filled": true, "opacity": 1, "color": "#231f20", "angle": 165},
      "encoding": {"x": {"field": "t", "type": "quantitative"}, "y": {"field": "v", "type": "quantitative"}}
    },
    {
      "data": {"values": [{"t": 189.3, "v": 0.834}]},
      "mark": {"type": "point", "shape": "M0,0L-2,-0.7L-2,0.7Z", "size": 144, "filled": true, "opacity": 1, "color": "#231f20", "angle": -27.5},
      "encoding": {"x": {"field": "t", "type": "quantitative"}, "y": {"field": "v", "type": "quantitative"}}
    }
  ]
}
]
}
